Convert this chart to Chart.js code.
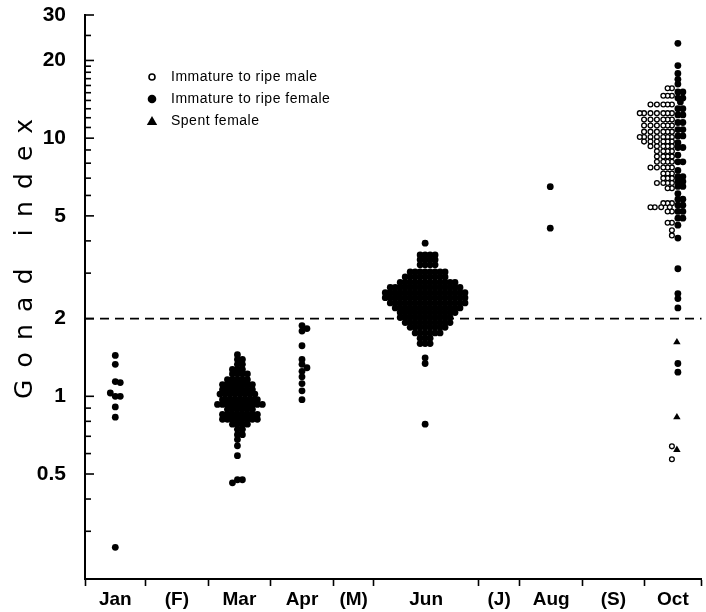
<!DOCTYPE html>
<html>
<head>
<meta charset="utf-8">
<script src="https://cdn.jsdelivr.net/npm/chart.js@4.4.1/dist/chart.umd.min.js"></script>
<style>
html,body{margin:0;padding:0;background:#fff;}
#wrap{width:706px;height:612px;position:relative;}
</style>
</head>
<body>
<div id="wrap"><canvas id="c" width="706" height="612"></canvas></div>
<script>
// ---------- categories / axis ticks ----------
const monthLabels = ['Jan', '(F)', 'Mar', 'Apr', '(M)', 'Jun', '(J)', 'Aug', '(S)', 'Oct'];
const monthEdges  = [0, 61, 124, 187, 250, 291, 396, 438, 501, 563, 621];
const yMajorTicks = [0.5, 1, 2, 5, 10, 20, 30];
const yMinorTicks = [0.3, 0.4, 0.6, 0.7, 0.8, 0.9, 3, 4, 6, 7, 8, 9, 11, 12, 13, 14, 15, 16, 17, 18, 19, 25];
const thresholdValue = 2;

// ---------- series values (gonad index) ----------
const janFemale = [1.44, 1.33, 1.14, 1.13, 1.0, 1.0, 1.03, 0.91, 0.83, 0.26];

const marFemale = [
  1.45,
  1.39, 1.39,
  1.33, 1.33,
  1.27, 1.27, 1.27,
  1.22, 1.22, 1.22, 1.22,
  1.16, 1.16, 1.16, 1.16, 1.16,
  1.11, 1.11, 1.11, 1.11, 1.11, 1.11, 1.11,
  1.06, 1.06, 1.06, 1.06, 1.06, 1.06, 1.06,
  1.02, 1.02, 1.02, 1.02, 1.02, 1.02, 1.02, 1.02,
  0.97, 0.97, 0.97, 0.97, 0.97, 0.97, 0.97, 0.97,
  0.93, 0.93, 0.93, 0.93, 0.93, 0.93, 0.93, 0.93, 0.93, 0.93,
  0.89, 0.89, 0.89, 0.89, 0.89, 0.89,
  0.85, 0.85, 0.85, 0.85, 0.85, 0.85, 0.85, 0.85,
  0.815, 0.815, 0.815, 0.815, 0.815, 0.815, 0.815, 0.815,
  0.78, 0.78, 0.78, 0.78,
  0.745, 0.745,
  0.71, 0.71,
  0.68,
  0.643, 0.589,
  0.475, 0.475, 0.462
];

const aprFemale = [1.88, 1.83, 1.79, 1.57, 1.39, 1.33, 1.29, 1.25, 1.19, 1.12, 1.05, 0.97];

const junFemale = [
  3.92,
  3.53, 3.53, 3.53, 3.53,
  3.38, 3.38, 3.38, 3.38,
  3.23, 3.23, 3.23, 3.23,
  3.03, 3.03, 3.03, 3.03, 3.03, 3.03, 3.03, 3.03,
  2.9, 2.9, 2.9, 2.9, 2.9, 2.9, 2.9, 2.9, 2.9,
  2.76, 2.76, 2.76, 2.76, 2.76, 2.76, 2.76, 2.76, 2.76, 2.76, 2.76, 2.76,
  2.64, 2.64, 2.64, 2.64, 2.64, 2.64, 2.64, 2.64, 2.64, 2.64, 2.64, 2.64, 2.64, 2.64, 2.64,
  2.52, 2.52, 2.52, 2.52, 2.52, 2.52, 2.52, 2.52, 2.52, 2.52, 2.52, 2.52, 2.52, 2.52, 2.52, 2.52, 2.52,
  2.41, 2.41, 2.41, 2.41, 2.41, 2.41, 2.41, 2.41, 2.41, 2.41, 2.41, 2.41, 2.41, 2.41, 2.41, 2.41, 2.41,
  2.3, 2.3, 2.3, 2.3, 2.3, 2.3, 2.3, 2.3, 2.3, 2.3, 2.3, 2.3, 2.3, 2.3, 2.3, 2.3,
  2.2, 2.2, 2.2, 2.2, 2.2, 2.2, 2.2, 2.2, 2.2, 2.2, 2.2, 2.2, 2.2, 2.2,
  2.11, 2.11, 2.11, 2.11, 2.11, 2.11, 2.11, 2.11, 2.11, 2.11, 2.11, 2.11,
  2.02, 2.02, 2.02, 2.02, 2.02, 2.02, 2.02, 2.02, 2.02, 2.02, 2.02,
  1.93, 1.93, 1.93, 1.93, 1.93, 1.93, 1.93, 1.93, 1.93, 1.93,
  1.85, 1.85, 1.85, 1.85, 1.85, 1.85, 1.85, 1.85,
  1.76, 1.76, 1.76, 1.76, 1.76, 1.76,
  1.68, 1.68, 1.68,
  1.6, 1.6, 1.6,
  1.41, 1.34,
  0.78
];

const augFemale = [6.49, 4.48];

const octFemale = [
  23.3, 19.1, 17.8, 16.9, 16.2,
  15.1, 15.1, 14.3, 14.3, 13.8, 13.0, 13.0, 12.3, 12.3, 11.5, 11.5,
  10.8, 10.8, 10.2, 10.2, 9.6, 9.2, 9.2, 8.6, 8.1, 8.1, 7.5, 7.1, 7.1,
  6.8, 6.8, 6.5, 6.5, 6.1, 5.8, 5.8, 5.5, 5.5, 5.2, 5.2, 4.9, 4.9, 4.6, 4.1,
  3.12, 2.5, 2.39, 2.2, 1.34, 1.24
];

const octMale = [
  15.6, 15.6,
  14.6, 14.6, 14.6,
  13.5, 13.5, 13.5, 13.5, 13.5,
  12.5, 12.5, 12.5, 12.5, 12.5, 12.5, 12.5,
  11.8, 11.8, 11.8, 11.8, 11.8, 11.8,
  11.2, 11.2, 11.2, 11.2, 11.2, 11.2,
  10.6, 10.6, 10.6, 10.6, 10.6, 10.6,
  10.1, 10.1, 10.1, 10.1, 10.1, 10.1, 10.1,
  9.7, 9.7, 9.7, 9.7, 9.7, 9.7,
  9.3, 9.3, 9.3, 9.3, 9.3,
  8.9, 8.9, 8.9, 8.9,
  8.5, 8.5, 8.5, 8.5,
  8.1, 8.1, 8.1, 8.1,
  7.7, 7.7, 7.7, 7.7, 7.7,
  7.3, 7.3, 7.3,
  7.0, 7.0, 7.0,
  6.7, 6.7, 6.7, 6.7,
  6.4, 6.4,
  5.6, 5.6, 5.6,
  5.4, 5.4, 5.4, 5.4,
  5.2, 5.2,
  4.7, 4.7,
  4.4, 4.2,
  0.64, 0.57
];

const octSpent = [1.62, 0.83, 0.62];

// ---------- derived tick lists ----------
const monthCenters = monthLabels.map((_, i) => (monthEdges[i] + monthEdges[i + 1]) / 2);
const xTickValues = monthEdges.concat(monthCenters).sort((a, b) => a - b);
const yTickValues = yMajorTicks.concat(yMinorTicks).sort((a, b) => a - b);

// ---------- beeswarm placement (pixel offsets via the chart's scales) ----------
function swarm(values, centerPx, side, ys, xs, minDist, step) {
  const placed = [];
  const out = [];
  values.forEach(v => {
    const py = ys.getPixelForValue(v);
    let off = 0;
    for (let i = 0; i < 400; i++) {
      let cand;
      if (side === 'both') cand = (i === 0) ? 0 : ((i % 2) ? 1 : -1) * Math.ceil(i / 2) * step;
      else cand = i * step * (side === 'left' ? -1 : 1);
      const ok = placed.every(p => (p.x - cand) * (p.x - cand) + (p.y - py) * (p.y - py) >= minDist * minDist);
      if (ok) { off = cand; break; }
    }
    placed.push({ x: off, y: py });
    out.push({ x: xs.getValueForPixel(centerPx + off), y: v });
  });
  return out;
}

const decor = {
  id: 'decor',
  afterDraw(chart) {
    const { ctx, chartArea, scales: { y } } = chart;
    ctx.save();
    // inward tick marks on the y axis
    ctx.strokeStyle = '#000';
    ctx.lineWidth = 1.6;
    y.ticks.forEach(t => {
      const py = y.getPixelForValue(t.value);
      const len = yMajorTicks.includes(t.value) ? 9 : 6;
      ctx.beginPath();
      ctx.moveTo(chartArea.left, py);
      ctx.lineTo(chartArea.left + len, py);
      ctx.stroke();
    });

    // y axis title with wide letter spacing
    const title = 'Gonad index';
    ctx.font = '25px "DejaVu Sans"';
    ctx.fillStyle = '#000';
    ctx.letterSpacing = '0px';
    const w0 = ctx.measureText(title).width;
    const span = 280;
    const sp = (span - w0) / (title.length - 1);
    ctx.save();
    ctx.translate(32, 399);
    ctx.rotate(-Math.PI / 2);
    ctx.letterSpacing = sp.toFixed(2) + 'px';
    ctx.textAlign = 'left';
    ctx.textBaseline = 'alphabetic';
    ctx.fillText(title, 0, 0);
    ctx.restore();

    // legend (inside plot)
    ctx.letterSpacing = '0.5px';
    ctx.font = '14px "Liberation Sans"';
    ctx.textAlign = 'left';
    ctx.textBaseline = 'middle';
    const rows = [77, 99, 121];
    const mx = 152, tx = 171;
    chart.data.datasets.slice(0, 3).forEach((ds, i) => {
      const cy = rows[i];
      ctx.fillStyle = '#000';
      ctx.strokeStyle = '#000';
      if (i === 0) {
        ctx.beginPath(); ctx.arc(mx, cy, 3, 0, Math.PI * 2);
        ctx.fillStyle = '#fff'; ctx.fill(); ctx.lineWidth = 1.6; ctx.stroke();
      } else if (i === 1) {
        ctx.beginPath(); ctx.arc(mx, cy, 4.3, 0, Math.PI * 2); ctx.fill();
      } else {
        ctx.beginPath(); ctx.moveTo(mx, cy - 5); ctx.lineTo(mx - 5.2, cy + 4); ctx.lineTo(mx + 5.2, cy + 4); ctx.closePath(); ctx.fill();
      }
      ctx.fillStyle = '#000';
      ctx.fillText(ds.label, tx, cy);
    });
    ctx.restore();
  }
};

const chart = new Chart(document.getElementById('c').getContext('2d'), {
  type: 'scatter',
  data: {
    datasets: [
      { label: 'Immature to ripe male', data: [], pointStyle: 'circle', pointRadius: 2.4, pointHoverRadius: 2.4,
        pointBorderWidth: 1.3, pointBorderColor: '#000', pointBackgroundColor: '#fff', borderColor: '#000', backgroundColor: '#fff' },
      { label: 'Immature to ripe female', data: [], pointStyle: 'circle', pointRadius: 3.4, pointHoverRadius: 3.4,
        pointBorderWidth: 0, pointBackgroundColor: '#000', borderColor: '#000', backgroundColor: '#000' },
      { label: 'Spent female', data: [], pointStyle: 'triangle', pointRadius: 4.3, pointHoverRadius: 4.3,
        pointBorderWidth: 0, pointBackgroundColor: '#000', borderColor: '#000', backgroundColor: '#000' },
      { type: 'line', label: 'threshold', data: [
          { x: monthEdges[0], y: thresholdValue },
          { x: monthEdges[monthEdges.length - 1], y: thresholdValue }
        ],
        borderColor: '#000', borderWidth: 1.6, borderDash: [9, 6], pointRadius: 0, fill: false, tension: 0 }
    ]
  },
  options: {
    responsive: false,
    devicePixelRatio: 1,
    animation: false,
    layout: { padding: { top: 15, right: 0, bottom: 0, left: 0 } },
    plugins: { legend: { display: false }, tooltip: { enabled: false } },
    scales: {
      x: {
        type: 'linear',
        min: monthEdges[0],
        max: monthEdges[monthEdges.length - 1],
        afterBuildTicks: s => { s.ticks = xTickValues.map(v => ({ value: v })); },
        afterFit: s => { s.height = 33; },
        ticks: {
          autoSkip: false, maxRotation: 0, minRotation: 0, padding: 2, color: '#000',
          font: { family: '"Liberation Sans"', size: 19, weight: 'bold' },
          callback: v => { const i = monthCenters.indexOf(v); return i >= 0 ? monthLabels[i] : ''; }
        },
        grid: {
          drawOnChartArea: false, drawTicks: true, tickLength: 7, tickWidth: 1.6,
          tickColor: c => (c.tick && monthEdges.includes(c.tick.value)) ? '#000' : 'rgba(0,0,0,0)',
          color: 'rgba(0,0,0,0)'
        },
        border: { display: true, color: '#000', width: 2 }
      },
      y: {
        type: 'logarithmic',
        min: 0.196,
        max: 30,
        afterBuildTicks: s => { s.ticks = yTickValues.map(v => ({ value: v })); },
        afterFit: s => { s.width = 85; },
        ticks: {
          autoSkip: false, padding: 0, color: '#000',
          font: { family: '"Liberation Sans"', size: 21, weight: 'bold' },
          callback: v => yMajorTicks.includes(v) ? String(v) : ''
        },
        grid: { display: false, drawTicks: true, tickLength: 19 },
        border: { display: true, color: '#000', width: 2 }
      }
    }
  },
  plugins: [decor]
});

// place the swarm points using the chart's own scales
(function placePoints() {
  const xs = chart.scales.x, ys = chart.scales.y;
  const cx = lab => xs.getPixelForValue(monthCenters[monthLabels.indexOf(lab)]);
  const female = [].concat(
    swarm(janFemale, cx('Jan'), 'both', ys, xs, 4.5, 2.5),
    swarm(marFemale, cx('Mar') - 2, 'both', ys, xs, 4.5, 2.5),
    swarm(aprFemale, cx('Apr'), 'both', ys, xs, 4.5, 2.5),
    swarm(junFemale, cx('Jun') - 1, 'both', ys, xs, 4.5, 2.5),
    swarm(augFemale, cx('Aug') - 1, 'both', ys, xs, 4.5, 2.5),
    swarm(octFemale, cx('Oct') + 5, 'right', ys, xs, 4.5, 2.5)
  );
  const male = swarm(octMale, cx('Oct') - 1, 'left', ys, xs, 4.3, 2.15);
  const spent = swarm(octSpent, cx('Oct') + 4, 'both', ys, xs, 4.5, 2.5);
  chart.data.datasets[0].data = male;
  chart.data.datasets[1].data = female;
  chart.data.datasets[2].data = spent;
  chart.update('none');
})();
</script>
</body>
</html>
